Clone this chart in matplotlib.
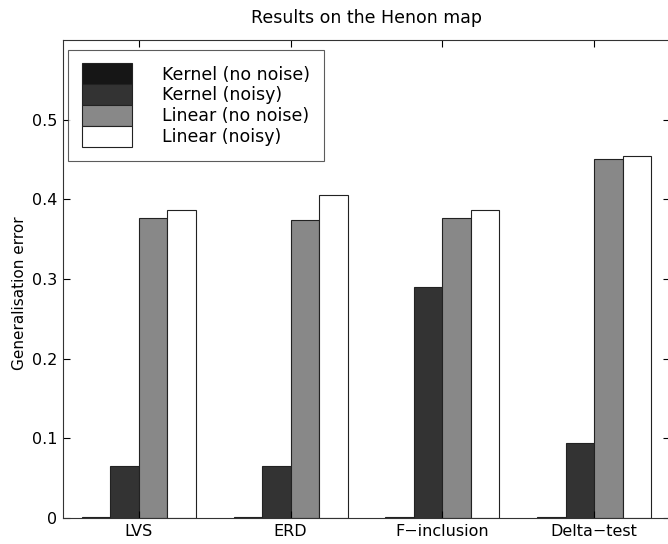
import matplotlib
matplotlib.use("Agg")
import matplotlib.pyplot as plt
import numpy as np

plt.rcParams['font.family'] = ['DejaVu Sans']

# methods along the x axis
methods = ['LVS', 'ERD', 'F\u2212inclusion', 'Delta\u2212test']

# generalisation error for each series
kernel_no_noise = [0.001, 0.001, 0.001, 0.001]
kernel_noisy    = [0.065, 0.065, 0.290, 0.094]
linear_no_noise = [0.377, 0.374, 0.376, 0.450]
linear_noisy    = [0.387, 0.406, 0.387, 0.455]

series = [
    ('Kernel (no noise)', kernel_no_noise, '#161616'),
    ('Kernel (noisy)',    kernel_noisy,    '#333333'),
    ('Linear (no noise)', linear_no_noise, '#888888'),
    ('Linear (noisy)',    linear_noisy,    '#ffffff'),
]

fig = plt.figure(figsize=(6.68, 5.44), dpi=100)
ax = fig.add_axes([63 / 668, 26 / 544, 607 / 668, 478 / 544])

x = np.arange(1, len(methods) + 1)
w = 0.1875
for i, (name, vals, col) in enumerate(series):
    off = (i - 1.5) * w
    ax.bar(x + off, vals, width=w, color=col, edgecolor='#222222',
           linewidth=0.8, label=name)

ax.set_xlim(0.5, 4.5)
ax.set_ylim(0, 0.6)
ax.set_xticks(x)
ax.set_xticklabels(methods, fontsize=11.5)
ax.set_yticks([0, 0.1, 0.2, 0.3, 0.4, 0.5])
ax.set_yticklabels(['0', '0.1', '0.2', '0.3', '0.4', '0.5'], fontsize=11.5)
ax.tick_params(direction='in', top=True, right=True, length=5, width=0.8, pad=4)
for s in ax.spines.values():
    s.set_linewidth(0.8)
    s.set_color('#333333')

ax.set_ylabel('Generalisation error', fontsize=11)
ax.yaxis.set_label_coords(-0.06, 0.47)
ax.set_title('Results on the Henon map', fontsize=12.5, pad=12)

leg = ax.legend(loc='upper left', bbox_to_anchor=(0.008, 0.98), fontsize=12.5,
                frameon=True, fancybox=False, edgecolor='#333333',
                handlelength=2.9, handleheight=1.47, labelspacing=0.0,
                handletextpad=1.75, borderpad=0.8, borderaxespad=0)
leg.get_frame().set_linewidth(0.8)

fig.savefig('out.png', dpi=100)
